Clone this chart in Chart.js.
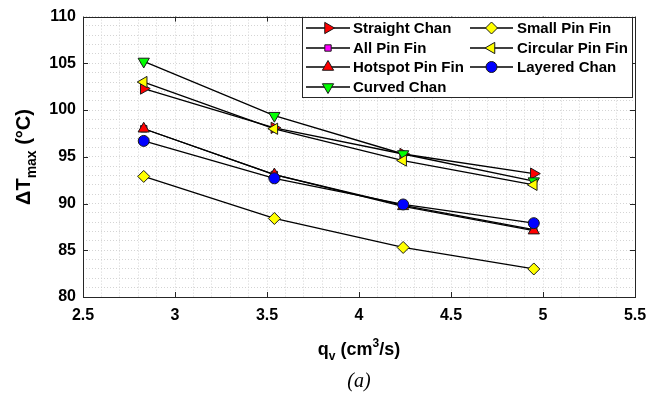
<!DOCTYPE html>
<html>
<head>
<meta charset="utf-8">
<script src="https://cdn.jsdelivr.net/npm/chart.js@4/dist/chart.umd.min.js"></script>
<style>
html,body{margin:0;padding:0;background:#fff;}
#wrap{width:660px;height:398px;position:relative;}
</style>
</head>
<body>
<div id="wrap"><canvas id="c" width="660" height="398"></canvas></div>
<script>
// ---- data ----
const flowRates = [2.83, 3.54, 4.24, 4.95];
const straightChan   = [102.3, 98.1, 95.3, 93.2];
const allPinFin      = [98.0, 93.1, 89.8, 87.2];
const hotspotPinFin  = [98.0, 93.1, 89.7, 87.1];
const curvedChan     = [105.2, 99.4, 95.3, 92.4];
const smallPinFin    = [92.9, 88.4, 85.3, 83.0];
const circularPinFin = [103.0, 98.0, 94.6, 92.0];
const layeredChan    = [96.7, 92.7, 89.9, 87.9];
const xTickLabels = ['2.5','3','3.5','4','4.5','5','5.5'];
const yTickLabels = ['80','85','90','95','100','105','110'];

const seriesDefs = [
  {label:'Straight Chan',    data:straightChan,   style:'triangle', rot:90,  color:'#ff0000', r:6.5},
  {label:'All Pin Fin',      data:allPinFin,      style:'rect',     rot:0,   color:'#ff00ff', r:4.5},
  {label:'Hotspot Pin Fin',  data:hotspotPinFin,  style:'triangle', rot:0,   color:'#ff0000', r:6.5},
  {label:'Curved Chan',      data:curvedChan,     style:'triangle', rot:180, color:'#00ff00', r:6.5},
  {label:'Small Pin Fin',    data:smallPinFin,    style:'rectRot',  rot:0,   color:'#ffff00', r:6},
  {label:'Circular Pin Fin', data:circularPinFin, style:'triangle', rot:270, color:'#ffff00', r:6.5},
  {label:'Layered Chan',     data:layeredChan,    style:'circle',   rot:0,   color:'#0000ff', r:5.5}
];

const datasets = seriesDefs.map((s,i)=>({
  label:s.label,
  data:flowRates.map((x,j)=>({x:x,y:s.data[j]})),
  borderColor:'#000',
  borderWidth:1.3,
  pointStyle:s.style,
  pointRotation:s.rot,
  pointRadius:s.r,
  pointHoverRadius:s.r,
  pointBackgroundColor:s.color,
  pointBorderColor:'#1a1a1a',
  pointBorderWidth:1,
  fill:false,
  tension:0,
  order: seriesDefs.length - i
}));

const FONT = '"Liberation Sans", Arial, sans-serif';

function drawMarker(ctx, s, x, y){
  ctx.save();
  ctx.fillStyle = s.color; ctx.strokeStyle = '#1a1a1a'; ctx.lineWidth = 1;
  if (Chart.helpers && Chart.helpers.drawPoint) {
    Chart.helpers.drawPoint(ctx, {pointStyle:s.style, rotation:s.rot, radius:s.r, borderWidth:1}, x, y);
  }
  ctx.restore();
}

const decorPlugin = {
  id:'decor',
  afterDraw(chart){
    const ctx = chart.ctx, a = chart.chartArea;
    const xs = chart.scales.x, ys = chart.scales.y;
    ctx.save();
    // box
    ctx.strokeStyle = '#262626'; ctx.lineWidth = 1;
    ctx.strokeRect(Math.round(a.left)+0.5, Math.round(a.top)+0.5, Math.round(a.right-a.left), Math.round(a.bottom-a.top));
    // inner tick marks
    xTickLabels.forEach(t=>{
      const px = Math.round(xs.getPixelForValue(parseFloat(t)))+0.5;
      ctx.beginPath(); ctx.moveTo(px,a.bottom); ctx.lineTo(px,a.bottom-5);
      ctx.moveTo(px,a.top); ctx.lineTo(px,a.top+5); ctx.stroke();
    });
    yTickLabels.forEach(t=>{
      const py = Math.round(ys.getPixelForValue(parseFloat(t)))+0.5;
      ctx.beginPath(); ctx.moveTo(a.left,py); ctx.lineTo(a.left+5,py);
      ctx.moveTo(a.right,py); ctx.lineTo(a.right-5,py); ctx.stroke();
    });
    // legend
    const lx = 302, ly = 17, lw = 330, lh = 80;
    ctx.fillStyle = '#fff'; ctx.fillRect(lx, ly, lw, lh);
    ctx.strokeStyle = '#262626'; ctx.strokeRect(lx+0.5, ly+0.5, lw, lh);
    const colX = [lx, 470], textX = [353, 517], rowY = [28, 48, 67, 87];
    const layout = [[0,0],[0,1],[0,2],[0,3],[1,0],[1,1],[1,2]];
    ctx.font = 'bold 15px ' + FONT; ctx.textBaseline = 'middle'; ctx.textAlign = 'left';
    seriesDefs.forEach((s,i)=>{
      const [c,r] = layout[i];
      const y = rowY[r];
      const x0 = c===0 ? lx+4 : colX[1];
      const x1 = c===0 ? 350 : 513;
      ctx.strokeStyle = '#000'; ctx.lineWidth = 1.3;
      ctx.beginPath(); ctx.moveTo(x0,y); ctx.lineTo(x1,y); ctx.stroke();
      drawMarker(ctx, s, (x0+x1)/2, y);
      ctx.fillStyle = '#000';
      ctx.fillText(s.label, textX[c], y+1);
    });
    // y axis label
    ctx.save();
    ctx.translate(30, 157); ctx.rotate(-Math.PI/2);
    ctx.fillStyle = '#000'; ctx.textBaseline = 'alphabetic'; ctx.textAlign = 'left';
    const big = 'bold 20px ' + FONT, small = 'bold 14px ' + FONT;
    ctx.font = big; const w1 = ctx.measureText('\u0394T').width;
    ctx.font = small; const w2 = ctx.measureText('max').width;
    ctx.font = big; const w3 = ctx.measureText(' (\u00B0C)').width;
    let sx = -(w1+w2+w3)/2;
    ctx.font = big; ctx.fillText('\u0394T', sx, 0); sx += w1;
    ctx.font = small; ctx.fillText('max', sx, 6); sx += w2;
    ctx.font = big; ctx.fillText(' (\u00B0C)', sx, 0);
    ctx.restore();
    // x axis label
    const xb = 'bold 18px ' + FONT, xsm = 'bold 12px ' + FONT;
    ctx.fillStyle = '#000'; ctx.textBaseline = 'alphabetic'; ctx.textAlign = 'left';
    const parts = [['q',xb,0],['v',xsm,5],[' (cm',xb,0],['3',xsm,-8],['/s)',xb,0]];
    let tw = 0; parts.forEach(p=>{ctx.font=p[1]; p.push(ctx.measureText(p[0]).width); tw+=p[3];});
    let px = (a.left+a.right)/2 - tw/2;
    parts.forEach(p=>{ctx.font=p[1]; ctx.fillText(p[0], px, 355+p[2]); px+=p[3];});
    // (a)
    ctx.font = 'italic 20px "Liberation Serif", "Times New Roman", serif';
    ctx.textAlign = 'center';
    ctx.fillText('(a)', (a.left+a.right)/2, 387);
    ctx.restore();
  }
};

const gridColor = '#d4d4d4';
new Chart(document.getElementById('c'), {
  type:'line',
  data:{datasets:datasets},
  options:{
    responsive:false,
    animation:false,
    layout:{padding:{left:0, top:12, right:25, bottom:0}},
    plugins:{legend:{display:false}, tooltip:{enabled:false}},
    scales:{
      x:{
        type:'linear', min:2.5, max:5.5,
        afterFit(s){ s.height = 101; },
        afterBuildTicks(s){ const t=[]; for(let i=25;i<=55;i++) t.push({value:i/10}); s.ticks = t; },
        ticks:{
          autoSkip:false, maxRotation:0, padding:9, color:'#000',
          font:{family:FONT, size:16, weight:'bold'},
          callback(v){ const k=Math.round(v*10); if(k%5!==0) return ''; const lbl=(k/10).toString(); return xTickLabels.includes(lbl)?lbl:''; }
        },
        grid:{color:gridColor, lineWidth:1, drawTicks:false, tickLength:0},
        border:{display:false, dash:[1,2]}
      },
      y:{
        type:'linear', min:80, max:110,
        afterFit(s){ s.width = 83; },
        afterBuildTicks(s){ const t=[]; for(let i=80;i<=110;i++) t.push({value:i}); s.ticks = t; },
        ticks:{
          autoSkip:false, padding:7, color:'#000',
          font:{family:FONT, size:16, weight:'bold'},
          callback(v){ const lbl=String(Math.round(v)); return (Math.round(v)%5===0 && yTickLabels.includes(lbl))?lbl:''; }
        },
        grid:{color:gridColor, lineWidth:1, drawTicks:false, tickLength:0},
        border:{display:false, dash:[1,2]}
      }
    }
  },
  plugins:[decorPlugin]
});
</script>
</body>
</html>
